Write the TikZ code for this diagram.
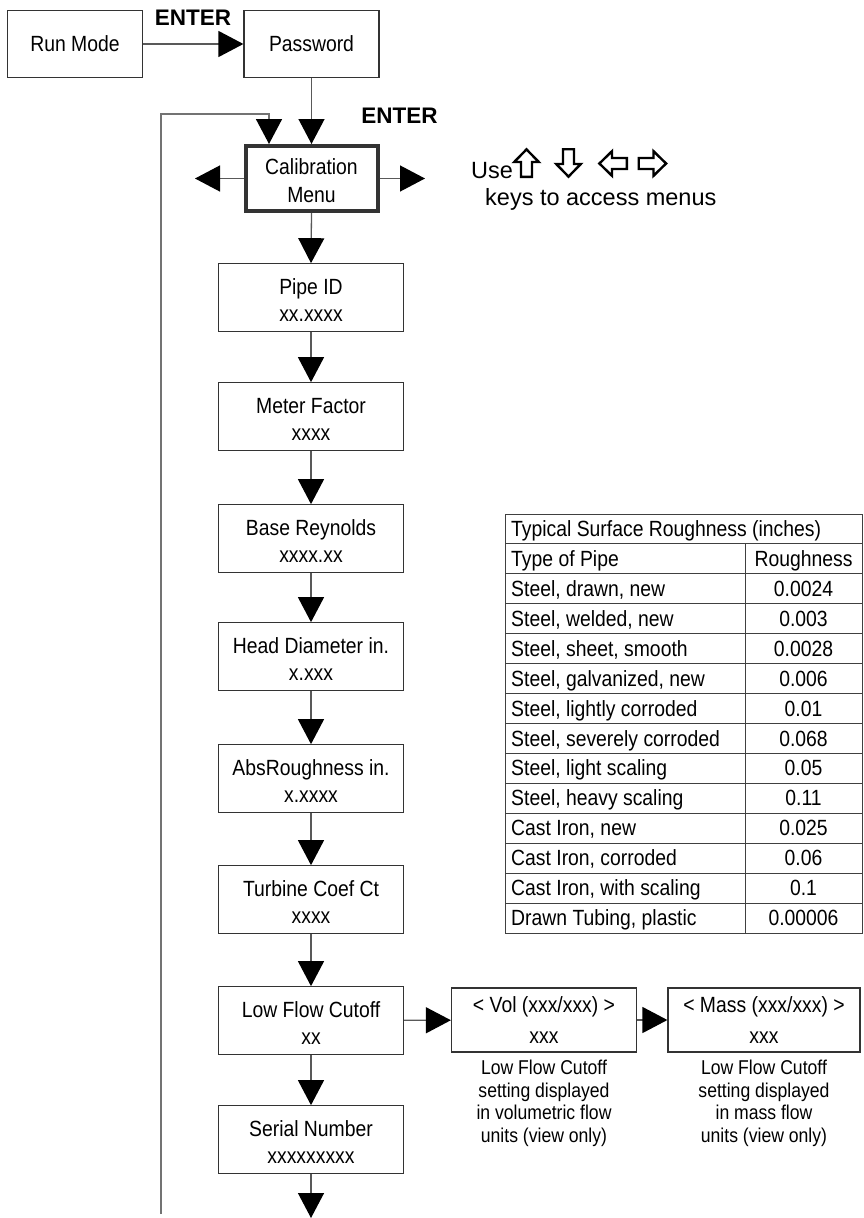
\documentclass[tikz,border=0pt]{standalone}
\usepackage{fontspec}
\setmainfont{Liberation Sans}
\newfontfamily\nar[FakeStretch=0.88]{Liberation Sans}
\usetikzlibrary{arrows.meta}
\newcommand\mytrow[3]{%
  \node[cell,anchor=base west] (ta#1) at (511,{514+#1*29.93+22.5}) {#2};
  \node[cell,anchor=base] (tb#1) at (803.5,{514+#1*29.93+22.5}) {#3};}
\begin{document}
\begin{tikzpicture}[x=1pt,y=-1pt,
  box/.style={draw=black!80, line width=1.2pt, minimum width=185pt, minimum height=67.5pt,
    inner sep=0pt, align=center, font=\nar\fontsize{22}{27}\selectfont},
  sbox/.style={box, minimum width=135pt, minimum height=67pt},
  calbox/.style={box, line width=4pt, minimum width=132pt, minimum height=65pt,
    font=\nar\fontsize{22}{28}\selectfont},
  sidebox/.style={box, minimum height=64pt, font=\nar\fontsize{22}{31}\selectfont},
  note/.style={inner sep=0pt, align=center, font=\nar\fontsize{20}{22.5}\selectfont},
  arr/.style={draw=black!65, line width=1.3pt, -{Triangle[length=25pt,width=26pt,color=black]}},
  fbarr/.style={arr, draw=black!55, line width=1.6pt},
  enter/.style={font=\bfseries\fontsize{22.5}{26}\selectfont, inner sep=0pt},
  plain/.style={font=\fontsize{23.5}{28}\selectfont, inner sep=0pt},
  cell/.style={font=\nar\fontsize{22}{26}\selectfont, inner sep=0pt},
  tbl/.style={draw=black!75, line width=1pt},
  keyarr/.pic={\draw[line width=2.4pt, fill=white, line join=miter]
    (0,-13.6) -- (12.3,-1) -- (5.5,-1) -- (5.5,13.8) -- (-5.5,13.8) -- (-5.5,-1) -- (-12.3,-1) -- cycle;}]
\useasboundingbox (0,0) rectangle (863,1218);

% top row
\node[sbox] (run) at (75,44) {Run Mode};
\node[sbox] (pass) at (311.5,44) {Password};
\node[enter, anchor=base] (ent1) at (193,25) {ENTER};
\node[enter, anchor=base] (ent2) at (399.5,123) {ENTER};

% calibration menu
\node[calbox] (cal) at (311.5,178.5) {\rule{0pt}{21pt}Calibration\\Menu};
\coordinate (calL) at (195,178.5);
\coordinate (calR) at (425,178.5);

% hint text
\node[plain, anchor=base west] (use) at (471,178) {Use};
\pic (ku) at (526.5,163) {keyarr};
\pic[rotate=180] (kd) at (568.5,163) {keyarr};
\pic[rotate=90] (kl) at (613,163.5) {keyarr};
\pic[rotate=-90] (kr) at (652.5,163.5) {keyarr};
\node[plain, anchor=base west] (keys) at (485,205) {keys to access menus};

% main column
\node[box] (pipe) at (311,297.5) {\rule{0pt}{21pt}Pipe ID\\xx.xxxx};
\node[box] (meter) at (311,416.5) {\rule{0pt}{21pt}Meter Factor\\xxxx};
\node[box] (base) at (311,538.5) {\rule{0pt}{21pt}Base Reynolds\\xxxx.xx};
\node[box] (head) at (311,656.5) {\rule{0pt}{21pt}Head Diameter in.\\x.xxx};
\node[box] (abs) at (311,778.5) {\rule{0pt}{21pt}AbsRoughness in.\\x.xxxx};
\node[box] (turb) at (311,899.5) {\rule{0pt}{21pt}Turbine Coef Ct\\xxxx};
\node[box] (low) at (311,1020.5) {\rule{0pt}{21pt}Low Flow Cutoff\\xx};
\node[box] (serial) at (311,1139.5) {\rule{0pt}{21pt}Serial Number\\xxxxxxxxx};
\coordinate (endc) at (311,1218);

% side boxes
\node[sidebox, minimum width=185pt] (vol) at (544,1020) {< Vol (xxx/xxx) >\\xxx};
\node[sidebox, minimum width=192pt] (mass) at (764,1020) {< Mass (xxx/xxx) >\\xxx};
\node[note, anchor=north] (volnote) at (544,1060) {Low Flow Cutoff\\setting displayed\\in volumetric flow\\units (view only)};
\node[note, anchor=north] (massnote) at (764,1060) {Low Flow Cutoff\\setting displayed\\in mass flow\\units (view only)};

% connectors
\draw[arr] (run) -- (pass);
\draw[arr] (pass.south) -- (cal.north);
\draw[arr] (cal.west) -- (calL);
\draw[arr] (cal.east) -- (calR);
\draw[arr] (cal.south) -- (pipe.north);
\draw[arr] (pipe) -- (meter);
\draw[arr] (meter) -- (base);
\draw[arr] (base) -- (head);
\draw[arr] (head) -- (abs);
\draw[arr] (abs) -- (turb);
\draw[arr] (turb) -- (low);
\draw[arr] (low) -- (serial);
\draw[arr] (serial) -- (endc);
\draw[arr] (low) -- (vol);
\draw[arr] (vol) -- (mass);
\coordinate (fbS) at (161,1214);
\coordinate (fbC) at (269,114);
\draw[fbarr] (fbS) |- (fbC) -- (fbC |- cal.north);

% table
\draw[tbl] (505,514) rectangle (862,933.02);
\foreach \i in {1,...,13}{\draw[tbl] (505,{514+\i*29.93}) -- (862,{514+\i*29.93});}
\draw[tbl] (745,543.93) -- (745,933.02);
\node[cell, anchor=base west] (ttitle) at (511,536.5) {Typical Surface Roughness (inches)};
\mytrow{1}{Type of Pipe}{Roughness}
\mytrow{2}{Steel, drawn, new}{0.0024}
\mytrow{3}{Steel, welded, new}{0.003}
\mytrow{4}{Steel, sheet, smooth}{0.0028}
\mytrow{5}{Steel, galvanized, new}{0.006}
\mytrow{6}{Steel, lightly corroded}{0.01}
\mytrow{7}{Steel, severely corroded}{0.068}
\mytrow{8}{Steel, light scaling}{0.05}
\mytrow{9}{Steel, heavy scaling}{0.11}
\mytrow{10}{Cast Iron, new}{0.025}
\mytrow{11}{Cast Iron, corroded}{0.06}
\mytrow{12}{Cast Iron, with scaling}{0.1}
\mytrow{13}{Drawn Tubing, plastic}{0.00006}
\end{tikzpicture}
\end{document}
